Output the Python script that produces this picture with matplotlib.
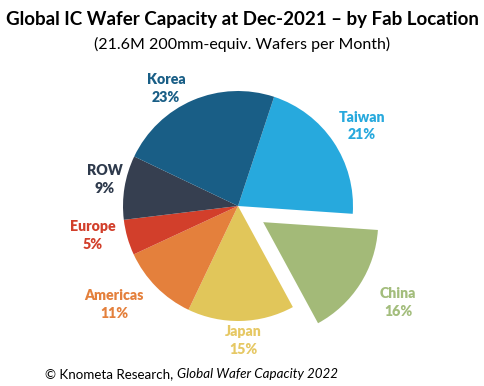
import matplotlib
matplotlib.use("Agg")
import matplotlib.pyplot as plt

regions = ["Taiwan", "China", "Japan", "Americas", "Europe", "ROW", "Korea"]
shares = [21, 16, 15, 11, 5, 9, 23]
colors = ["#27A9DD", "#A3BA78", "#E1C65A", "#E4803C", "#D23F2B", "#363F50", "#195E86"]
label_colors = ["#27A9DD", "#A3BD7C", "#E6C864", "#E4803C", "#D23F2B", "#2E3A4C", "#195E86"]
explode = [0, 0.26, 0, 0, 0, 0, 0]
# label centre positions in pixels (x, y of first line)
label_px = [(362, 117), (398, 293), (243, 332), (114, 295), (93, 227), (105, 171), (166, 80)]

W, H = 485, 386
CX, CY, R = 238, 206, 115

def px(x, y):
    return (x - CX) / R, (CY - y) / R

plt.rcParams['font.family'] = ['Lato', 'DejaVu Sans']
fig = plt.figure(figsize=(W / 100, H / 100), dpi=100)
ax = fig.add_axes([0, 0, 1, 1])
ax.pie(shares, colors=colors, explode=explode, startangle=71.7, counterclock=False,
       radius=1, center=(0, 0), wedgeprops=dict(linewidth=0))
ax.set_xlim(px(0, 0)[0], px(W, 0)[0])
ax.set_ylim(px(0, H)[1], px(0, 0)[1])
ax.set_aspect('equal')
ax.axis('off')

for name, s, c, (lx, ly) in zip(regions, shares, label_colors, label_px):
    x, y = px(lx, ly)
    ax.text(x, y, name, color=c, fontsize=10.2, fontweight='heavy', ha='center', va='center')
    x2, y2 = px(lx, ly + 18)
    ax.text(x2, y2, f"{s}%", color=c, fontsize=10.2, fontweight='heavy', ha='center', va='center')

fig.text(0.5, 1 - 19 / H, "Global IC Wafer Capacity at Dec-2021 \u2013 by Fab Location",
         ha='center', va='center', fontsize=13.5, fontweight='bold', color='black')
fig.text(0.5, 1 - 44 / H, "(21.6M 200mm-equiv. Wafers per Month)",
         ha='center', va='center', fontsize=11.5, color='black')
t1 = fig.text(45 / W, 1 - 374 / H, "\u00a9 Knometa Research, ", ha='left', va='center',
              fontsize=9.6, color='black')
fig.canvas.draw()
bb = t1.get_window_extent()
fig.text(bb.x1 / W, 1 - 374 / H, "Global Wafer Capacity 2022", ha='left', va='center',
         fontsize=9.6, style='italic', color='black')

fig.savefig("out.png", dpi=100)
